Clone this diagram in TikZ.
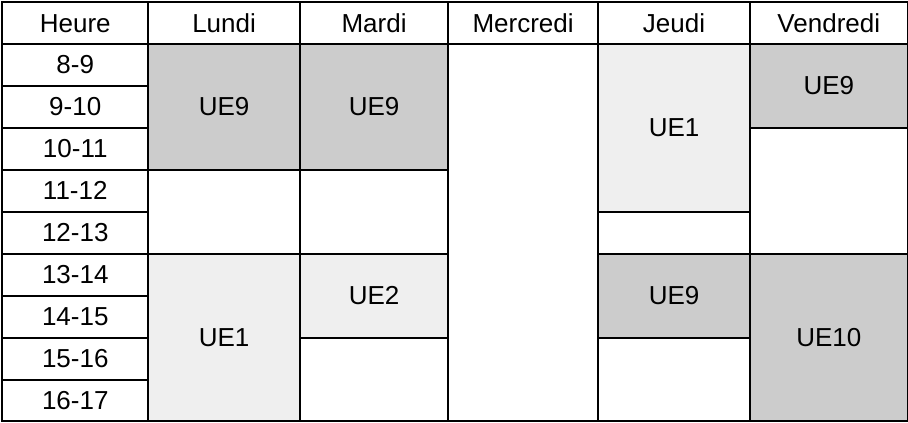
\documentclass[tikz,border=0pt]{standalone}
\usepackage{fontspec}
\setmainfont{Liberation Sans}
\usepackage{xcolor}
\usepackage{tikz}
\usetikzlibrary{positioning}
\definecolor{uedark}{HTML}{CCCCCC}
\definecolor{uelight}{HTML}{EFEFEF}
\tikzset{
    cellbox/.style = {rectangle, draw=black, line width=1.5pt, anchor=north west, inner sep=0pt, align=center, font=\fontsize{19.5}{23}\selectfont},
    headbox/.style = {cellbox, minimum height=31.2pt},
    hourbox/.style = {cellbox, minimum width=109.2pt, minimum height=31.45pt},
}

\begin{document}
\begin{tikzpicture}[x=1pt, y=-1pt]
\useasboundingbox (0,0) rectangle (681,316.5);
% header row
\node[headbox, minimum width=109.2pt] at (1.1,1.1) (heure) {Heure};
\node[headbox, minimum width=114pt] at (110.3,1.1) (lundi) {Lundi};
\node[headbox, minimum width=111pt] at (224.3,1.1) (mardi) {Mardi};
\node[headbox, minimum width=112.5pt] at (335.3,1.1) (mercredi) {Mercredi};
\node[headbox, minimum width=114pt] at (447.8,1.1) (jeudi) {Jeudi};
\node[headbox, minimum width=118.1pt] at (561.8,1.1) (vendredi) {Vendredi};
% hours
\node[hourbox] at (1.1,32.3) (h8) {8-9};
\node[hourbox] at (1.1,63.75) (h9) {9-10};
\node[hourbox] at (1.1,95.2) (h10) {10-11};
\node[hourbox] at (1.1,126.65) (h11) {11-12};
\node[hourbox] at (1.1,158.1) (h12) {12-13};
\node[hourbox] at (1.1,189.55) (h13) {13-14};
\node[hourbox] at (1.1,221.0) (h14) {14-15};
\node[hourbox] at (1.1,252.45) (h15) {15-16};
\node[hourbox] at (1.1,283.9) (h16) {16-17};
% Lundi
\node[cellbox, fill=uedark, minimum width=114pt, minimum height=94.35pt] at (110.3,32.3) (luna) {UE9};
\node[cellbox, minimum width=114pt, minimum height=62.9pt] at (110.3,126.65) (lunb) {};
\node[cellbox, fill=uelight, minimum width=114pt, minimum height=125.8pt] at (110.3,189.55) (lunc) {UE1};
% Mardi
\node[cellbox, fill=uedark, minimum width=111pt, minimum height=94.35pt] at (224.3,32.3) (mara) {UE9};
\node[cellbox, minimum width=111pt, minimum height=62.9pt] at (224.3,126.65) (marb) {};
\node[cellbox, fill=uelight, minimum width=111pt, minimum height=62.9pt] at (224.3,189.55) (marc) {UE2};
\node[cellbox, minimum width=111pt, minimum height=62.9pt] at (224.3,252.45) (mard) {};
% Mercredi
\node[cellbox, minimum width=112.5pt, minimum height=283.05pt] at (335.3,32.3) (mera) {};
% Jeudi
\node[cellbox, fill=uelight, minimum width=114pt, minimum height=125.8pt] at (447.8,32.3) (jeua) {UE1};
\node[cellbox, minimum width=114pt, minimum height=31.45pt] at (447.8,158.1) (jeub) {};
\node[cellbox, fill=uedark, minimum width=114pt, minimum height=62.9pt] at (447.8,189.55) (jeuc) {UE9};
\node[cellbox, minimum width=114pt, minimum height=62.9pt] at (447.8,252.45) (jeud) {};
% Vendredi
\node[cellbox, fill=uedark, minimum width=118.1pt, minimum height=62.9pt] at (561.8,32.3) (vena) {UE9};
\node[cellbox, minimum width=118.1pt, minimum height=94.35pt] at (561.8,95.2) (venb) {};
\node[cellbox, fill=uedark, minimum width=118.1pt, minimum height=125.8pt] at (561.8,189.55) (venc) {UE10};
\end{tikzpicture}
\end{document}
